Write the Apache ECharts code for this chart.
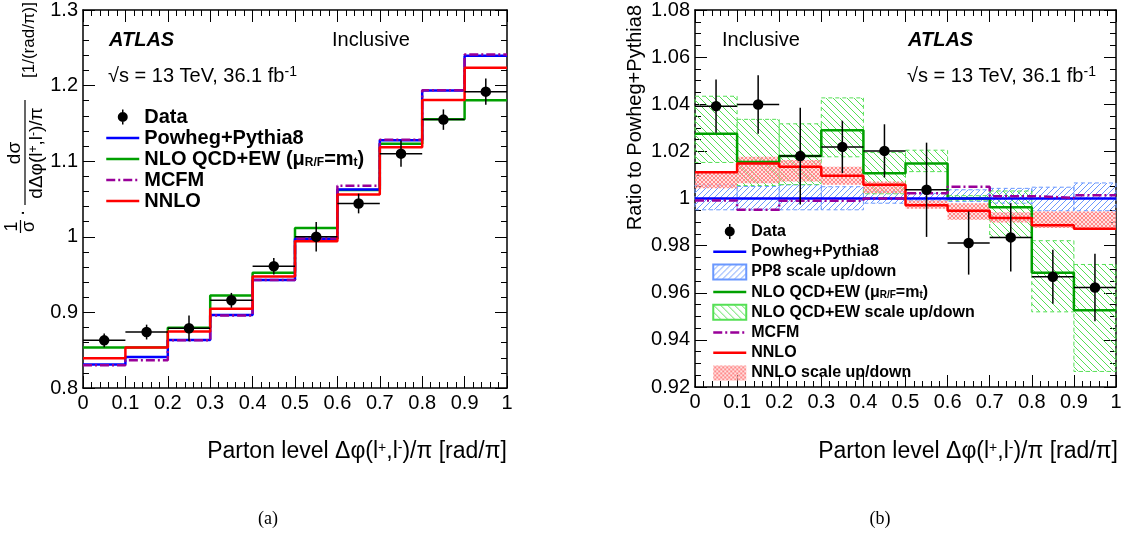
<!DOCTYPE html>
<html><head><meta charset="utf-8">
<script src="https://cdn.jsdelivr.net/npm/echarts@6/dist/echarts.min.js"></script>
<style>html,body{margin:0;padding:0;background:#fff}#c{width:1130px;height:535px}</style>
</head><body><div id="c"></div><script>
// ---------------- data ----------------
const edges = [0, 0.1, 0.2, 0.3, 0.4, 0.5, 0.6, 0.7, 0.8, 0.9, 1.0];
// (a) normalised cross-section
const dataL  = [0.863, 0.874, 0.879, 0.916, 0.961, 1.000, 1.044, 1.110, 1.155, 1.192];
const errL   = [0.009, 0.0098, 0.017, 0.0098, 0.011, 0.0196, 0.013, 0.0174, 0.0135, 0.0174];
const pp8L   = [0.831, 0.841, 0.8635, 0.8965, 0.943, 0.9974, 1.0626, 1.1278, 1.1935, 1.2396];
const mcfmL  = [0.830, 0.8368, 0.8630, 0.8960, 0.9428, 0.9976, 1.0675, 1.1285, 1.1937, 1.2410];
const nloL   = [0.8535, 0.8538, 0.8796, 0.9222, 0.9526, 1.0118, 1.0620, 1.1232, 1.1555, 1.1805];
const nnloL  = [0.8395, 0.8535, 0.8748, 0.9048, 0.9474, 0.9942, 1.0560, 1.1183, 1.1809, 1.2235];
// (b) ratio to Powheg+Pythia8
const dataR  = [1.0392, 1.0399, 1.0180, 1.0219, 1.0202, 1.0037, 0.9811, 0.9835, 0.9668, 0.9622];
const errR   = [0.0113, 0.0124, 0.0205, 0.0111, 0.0113, 0.0200, 0.0134, 0.0145, 0.0115, 0.0143];
const pp8R   = [1, 1, 1, 1, 1, 1, 1, 1, 1, 1];
const pp8Lo  = [0.9952, 0.9952, 0.9952, 0.9952, 0.9980, 0.9990, 0.9987, 0.9980, 0.9948, 0.9948];
const pp8Hi  = [1.0058, 1.0051, 1.0058, 1.0050, 1.0030, 1.0022, 1.0037, 1.0043, 1.0048, 1.0066];
const nloR   = [1.0275, 1.0155, 1.0180, 1.0290, 1.0107, 1.0149, 1.0000, 0.9963, 0.9685, 0.9526];
const nloLo  = [1.0153, 1.0055, 1.0059, 1.0177, 1.0020, 1.0114, 0.9993, 0.9835, 0.9519, 0.9266];
const nloHi  = [1.0434, 1.0336, 1.0317, 1.0427, 1.0195, 1.0205, 1.0012, 1.0032, 0.9821, 0.9720];
const mcfmR  = [0.9992, 0.9952, 0.9990, 0.9990, 1.0000, 1.0022, 1.0050, 1.0010, 1.0003, 1.0014];
const nnloR  = [1.0111, 1.0149, 1.0135, 1.0097, 1.0058, 0.9971, 0.9948, 0.9917, 0.9886, 0.9872];
const nnloLo = [1.0043, 1.0065, 1.0072, 1.0058, 1.0022, 0.9957, 0.9910, 0.9898, 0.9875, 0.9868];
const nnloHi = [1.0113, 1.0177, 1.0163, 1.0135, 1.0072, 0.9992, 0.9980, 0.9942, 0.9945, 0.9945];
const xTicks = {min: 0, max: 1, interval: 0.1};
const yTicksL = {min: 0.8, max: 1.3, interval: 0.1};
const yTicksR = {min: 0.92, max: 1.08, interval: 0.02};

// ---------------- style ----------------
const FONT = "'Liberation Sans', Arial, Helvetica, sans-serif";
const BLUE = '#0000ff', GREEN = '#00a000', RED = '#ff0000', PURPLE = '#990099';

function hatch(color, dir, size, lw) {
  const c = document.createElement('canvas');
  c.width = size; c.height = size;
  const g = c.getContext('2d');
  g.strokeStyle = color; g.lineWidth = lw; g.beginPath();
  const s = size;
  if (dir > 0) {
    g.moveTo(-1, s + 1); g.lineTo(s + 1, -1);
    g.moveTo(-s / 2 - 1, s / 2 + 1); g.lineTo(s / 2 + 1, -s / 2 - 1);
    g.moveTo(s / 2 - 1, 1.5 * s + 1); g.lineTo(1.5 * s + 1, s / 2 - 1);
  } else {
    g.moveTo(-1, -1); g.lineTo(s + 1, s + 1);
    g.moveTo(-s / 2 - 1, s / 2 - 1); g.lineTo(s / 2 + 1, 1.5 * s + 1);
    g.moveTo(s / 2 - 1, -s / 2 - 1); g.lineTo(1.5 * s + 1, s / 2 + 1);
  }
  g.stroke();
  return c;
}
function cross(color, size) {
  const c = document.createElement('canvas');
  c.width = size; c.height = size;
  const g = c.getContext('2d');
  g.fillStyle = 'rgba(255,200,200,0.55)'; g.fillRect(0, 0, size, size);
  g.strokeStyle = color; g.lineWidth = 1; g.beginPath();
  g.moveTo(0, 0); g.lineTo(size, size); g.moveTo(size, 0); g.lineTo(0, size);
  g.stroke();
  return c;
}
const patBlue  = {image: hatch('#6a98ff', 1, 6, 1), repeat: 'repeat'};
const patGreen = {image: hatch('#55e055', -1, 7, 1), repeat: 'repeat'};
const patRed   = {image: cross('#ff8a8a', 4), repeat: 'repeat'};

function stepPts(v) { const p = v.map((y, i) => [edges[i], y]); p.push([edges[edges.length - 1], v[v.length - 1]]); return p; }
function bandPts(lo, hi) { return lo.map((l, i) => [edges[i], edges[i + 1], l, hi[i]]); }
function errPts(v, e) { return v.map((y, i) => [edges[i], edges[i + 1], y, e[i]]); }
function centers(v) { return v.map((y, i) => [(edges[i] + edges[i + 1]) / 2, y]); }

function bandSeries(name, xi, yi, lo, hi, fill, stroke) {
  return {
    type: 'custom', name, xAxisIndex: xi, yAxisIndex: yi, z: 1,
    itemStyle: {color: fill, borderColor: stroke || 'transparent', borderType: 'dashed', borderWidth: stroke ? 1 : 0},
    encode: {x: [0, 1], y: [2, 3]},
    data: bandPts(lo, hi),
    renderItem: (params, api) => {
      const a = api.coord([api.value(0), api.value(3)]);
      const b = api.coord([api.value(1), api.value(2)]);
      return {type: 'rect', shape: {x: a[0], y: a[1], width: b[0] - a[0], height: b[1] - a[1]},
        style: {fill: fill, stroke: stroke || null, lineWidth: 1, lineDash: stroke ? [4, 3] : null}};
    }
  };
}
function stepSeries(name, xi, yi, v, color, dash, z) {
  return {type: 'line', name, xAxisIndex: xi, yAxisIndex: yi, step: 'end', data: stepPts(v),
    symbol: 'none', z: z, lineStyle: {color, width: 2.5, type: dash || 'solid'}, itemStyle: {color}};
}
function dataSeries(xi, yi, v, e) {
  return [
    {type: 'scatter', name: 'Data', xAxisIndex: xi, yAxisIndex: yi, data: centers(v), symbol: 'circle',
     symbolSize: 10.5, itemStyle: {color: '#000', opacity: 1}, z: 12},
    {type: 'custom', name: 'Data', xAxisIndex: xi, yAxisIndex: yi, z: 11, itemStyle: {color: '#000'},
     encode: {x: [0, 1], y: [2]}, data: errPts(v, e),
     renderItem: (params, api) => {
       const x0 = api.value(0), x1 = api.value(1), y = api.value(2), er = api.value(3), xc = (x0 + x1) / 2;
       const l = api.coord([x0, y]), r = api.coord([x1, y]);
       const t = api.coord([xc, y + er]), b = api.coord([xc, y - er]);
       const st = {stroke: '#000', lineWidth: 1.5};
       return {type: 'group', children: [
         {type: 'line', shape: {x1: l[0], y1: l[1], x2: r[0], y2: r[1]}, style: st},
         {type: 'line', shape: {x1: t[0], y1: t[1], x2: b[0], y2: b[1]}, style: st}]};
     }}
  ];
}

function xAx(grid, pos) {
  return Object.assign({gridIndex: grid, type: 'value', position: pos,
    axisLine: {show: true, onZero: false, lineStyle: {color: '#000', width: 1.5}},
    axisTick: {show: true, inside: true, length: 12, lineStyle: {color: '#000', width: 1}},
    minorTick: {show: true, splitNumber: 5, length: 6, lineStyle: {color: '#000', width: 1}},
    splitLine: {show: false}, minorSplitLine: {show: false},
    axisLabel: {show: pos === 'bottom', color: '#000', fontSize: 20, fontFamily: FONT, margin: 5}}, xTicks);
}
function yAx(grid, pos, ticks, split) {
  return Object.assign({gridIndex: grid, type: 'value', position: pos,
    axisLine: {show: true, onZero: false, lineStyle: {color: '#000', width: 1.5}},
    axisTick: {show: true, inside: true, length: 12, lineStyle: {color: '#000', width: 1}},
    minorTick: {show: true, splitNumber: split, length: 6, lineStyle: {color: '#000', width: 1}},
    splitLine: {show: false}, minorSplitLine: {show: false},
    axisLabel: {show: pos === 'left', color: '#000', fontSize: 20, fontFamily: FONT, margin: 5}}, ticks);
}

const supSub = {
  sub: {fontSize: 12, fontWeight: 'bold', fontFamily: FONT, lineHeight: 6, verticalAlign: 'bottom'},
  sub2: {fontSize: 10, fontWeight: 'bold', fontFamily: FONT, lineHeight: 6, verticalAlign: 'bottom'}
};
const dataIcon = 'path://M0,0 L0.01,0 L0,0.01 Z M33,15 L32.99,15 L33,14.99 Z ' +
  'M15.75,0 L17.25,0 L17.25,4 L15.75,4 Z M15.75,11 L17.25,11 L17.25,15 L15.75,15 Z ' +
  'M11.5,7.5 A5,5 0 1,1 21.5,7.5 A5,5 0 1,1 11.5,7.5 Z';

const NLO = 'NLO QCD+EW';
const legendFmt = n => n === NLO ? 'NLO QCD+EW (μ{sub|R/F}=m{sub|t})' : n;
const lineItem = n => ({name: n, itemStyle: {opacity: 0}, lineStyle: {width: 2.5}});

const option = {
  backgroundColor: '#fff',
  animation: false,
  grid: [
    {left: 83, top: 7, width: 424, height: 381},
    {left: 695, top: 7, width: 421, height: 380}
  ],
  xAxis: [xAx(0, 'bottom'), xAx(0, 'top'), xAx(1, 'bottom'), xAx(1, 'top')],
  yAxis: [yAx(0, 'left', yTicksL, 5), yAx(0, 'right', yTicksL, 5), yAx(1, 'left', yTicksR, 4), yAx(1, 'right', yTicksR, 4)],
  legend: [
    {orient: 'vertical', left: 100, top: 102, itemWidth: 33, itemHeight: 15, itemGap: 1,
     textStyle: {fontSize: 20, fontWeight: 'bold', fontFamily: FONT, color: '#000', lineHeight: 20, rich: supSub},
     formatter: legendFmt, selectedMode: false,
     data: [{name: 'Data', icon: dataIcon}, lineItem('Powheg+Pythia8'), lineItem(NLO), lineItem('MCFM'), lineItem('NNLO')]},
    {orient: 'vertical', left: 707, top: 218, itemWidth: 33, itemHeight: 15, itemGap: 3.2,
     textStyle: {fontSize: 16, fontWeight: 'bold', fontFamily: FONT, color: '#000', lineHeight: 17,
       rich: {sub: supSub.sub2}},
     formatter: legendFmt, selectedMode: false,
     data: [{name: 'Data', icon: dataIcon}, lineItem('Powheg+Pythia8'), {name: 'PP8 scale up/down', icon: 'rect'}, lineItem(NLO),
       {name: 'NLO QCD+EW scale up/down', icon: 'rect'}, lineItem('MCFM'), lineItem('NNLO'), {name: 'NNLO scale up/down', icon: 'rect'}]}
  ],
  series: [
    ...dataSeries(0, 0, dataL, errL),
    stepSeries(NLO, 0, 0, nloL, GREEN, null, 3),
    stepSeries('Powheg+Pythia8', 0, 0, pp8L, BLUE, null, 4),
    stepSeries('MCFM', 0, 0, mcfmL, PURPLE, [9, 3, 2, 3], 5),
    stepSeries('NNLO', 0, 0, nnloL, RED, null, 6),
    ...dataSeries(2, 2, dataR, errR),
    bandSeries('PP8 scale up/down', 2, 2, pp8Lo, pp8Hi, patBlue, '#6a98ff'),
    bandSeries('NLO QCD+EW scale up/down', 2, 2, nloLo, nloHi, patGreen, '#55e055'),
    bandSeries('NNLO scale up/down', 2, 2, nnloLo, nnloHi, patRed, null),
    stepSeries('Powheg+Pythia8', 2, 2, pp8R, BLUE, null, 4),
    stepSeries(NLO, 2, 2, nloR, GREEN, null, 3),
    stepSeries('MCFM', 2, 2, mcfmR, PURPLE, [9, 3, 2, 3], 5),
    stepSeries('NNLO', 2, 2, nnloR, RED, null, 6)
  ],
  graphic: []
};

const supRich = {sup: {fontSize: 14, fontFamily: FONT, lineHeight: 8, verticalAlign: 'top'}};
function txt(x, y, text, font, align, extra) {
  return Object.assign({type: 'text', x, y, z: 20,
    style: {text, font, fill: '#000', textAlign: align || 'left', align: align || 'left',
      textVerticalAlign: 'middle', verticalAlign: 'middle', lineHeight: 22, rich: supRich}}, extra || {});
}
const G = option.graphic;
G.push(txt(109, 40, 'ATLAS', 'italic bold 20px ' + FONT));
G.push(txt(332, 40, 'Inclusive', '20px ' + FONT));
G.push(txt(108, 76, '√s = 13 TeV, 36.1 fb{sup|-1}', '20px ' + FONT));
G.push(txt(722, 40, 'Inclusive', '20px ' + FONT));
G.push(txt(908, 40, 'ATLAS', 'italic bold 20px ' + FONT));
G.push(txt(907, 76, '√s = 13 TeV, 36.1 fb{sup|-1}', '20px ' + FONT));
G.push(txt(507, 452, 'Parton level Δφ(l{sup|+},l{sup|-})/π [rad/π]', '23px ' + FONT, 'right'));
G.push(txt(1118, 452, 'Parton level Δφ(l{sup|+},l{sup|-})/π [rad/π]', '23px ' + FONT, 'right'));
G.push(txt(268, 519, '(a)', "18px 'Liberation Serif', 'Times New Roman', serif", 'center'));
G.push(txt(880, 519, '(b)', "18px 'Liberation Serif', 'Times New Roman', serif", 'center'));
G.push(txt(635, 5, 'Ratio to Powheg+Pythia8', '20px ' + FONT, 'right', {rotation: Math.PI / 2}));

// left y-axis title (rotated group)
function gt(x, y, text, size, align) {
  return {type: 'text', x, y, style: {text, font: size + 'px ' + FONT, fill: '#000', textAlign: align || 'center', align: align || 'center',
    textVerticalAlign: 'middle', verticalAlign: 'middle', lineHeight: size, rich: {sup: {fontSize: 12, fontFamily: FONT, lineHeight: 6, verticalAlign: 'top'}}}};
}
G.push({type: 'group', x: 25, y: 233, rotation: Math.PI / 2, z: 20, children: [
  gt(6.5, -12.5, '1', 18),
  {type: 'line', shape: {x1: 0, y1: -4.5, x2: 13, y2: -4.5}, style: {stroke: '#000', lineWidth: 1.2}},
  gt(6.5, 4, 'σ', 18),
  gt(20, -3, '·', 20),
  gt(80, -10, 'dσ', 19),
  {type: 'line', shape: {x1: 28, y1: 0, x2: 133, y2: 0}, style: {stroke: '#000', lineWidth: 1.2}},
  gt(80, 12, 'dΔφ(l{sup|+},l{sup|-})/π', 19),
  gt(193, 4, '[1/(rad/π)]', 17)
]});

const chart = echarts.init(document.getElementById('c'), null, {renderer: 'canvas'});
chart.setOption(option);
</script></body></html>
